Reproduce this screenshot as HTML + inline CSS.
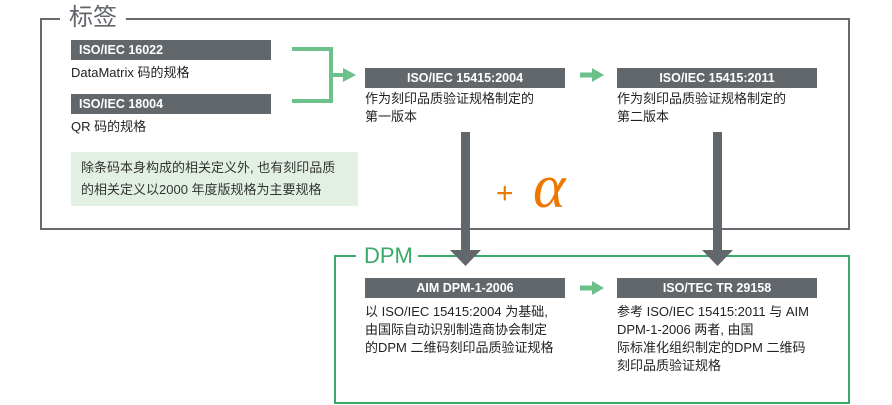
<!DOCTYPE html>
<html><head><meta charset="utf-8"><style>
body{margin:0;width:892px;height:405px;background:#fff;position:relative;overflow:hidden;font-family:"Liberation Sans","Noto Sans CJK SC",sans-serif;color:#222}
.a{position:absolute}
.bar{position:absolute;height:20px;background:#62676c;color:#fff;font-size:12.5px;font-weight:bold;line-height:20px;width:200px}
.t{position:absolute;font-size:13px;line-height:18px;white-space:nowrap}
</style></head><body>
<svg class="a" style="left:0;top:0" width="892" height="405">
<rect x="41" y="19" width="808" height="210" fill="none" stroke="#666a6e" stroke-width="2"/>
<rect x="60" y="5" width="66" height="28" fill="#fff"/>
<rect x="71" y="152" width="287" height="54" fill="#e2f0e3"/>
<path d="M292 49H331V101H292M331 75H345" fill="none" stroke="#6cc089" stroke-width="4"/>
<polygon points="343,68 356,75 343,82" fill="#6cc089"/>
<path d="M580 75H594" stroke="#6cc089" stroke-width="5"/><polygon points="592,68 604,75 592,82" fill="#6cc089"/>
<path d="M580 288H594" stroke="#6cc089" stroke-width="5"/><polygon points="592,281 604,288 592,295" fill="#6cc089"/>
<rect x="335" y="256" width="514" height="147" fill="none" stroke="#3aaa6a" stroke-width="2"/>
<rect x="356" y="244" width="62" height="26" fill="#fff"/>
<rect x="461" y="132" width="9" height="119" fill="#62676c"/>
<polygon points="450,250 481,250 465.5,266" fill="#62676c"/>
<rect x="713" y="132" width="9" height="119" fill="#62676c"/>
<polygon points="702,250 733,250 717.5,266" fill="#62676c"/>
</svg>
<div class="a" style="left:69px;top:3px;font-size:24px;color:#62676c;line-height:30px">标签</div>
<div class="a" style="left:364px;top:242px;font-size:22px;color:#3aaa6a;line-height:28px">DPM</div>
<div class="bar" style="left:71px;top:40px;padding-left:8px;width:192px">ISO/IEC 16022</div>
<div class="t" style="left:71px;top:64px">DataMatrix 码的规格</div>
<div class="bar" style="left:71px;top:94px;padding-left:8px;width:192px">ISO/IEC 18004</div>
<div class="t" style="left:71px;top:118px">QR 码的规格</div>
<div class="t" style="left:81px;top:157px;line-height:22px;color:#333">除条码本身构成的相关定义外, 也有刻印品质<br>的相关定义以2000 年度版规格为主要规格</div>
<div class="bar" style="left:365px;top:68px;text-align:center">ISO/IEC 15415:2004</div>
<div class="t" style="left:365px;top:90px">作为刻印品质验证规格制定的<br>第一版本</div>
<div class="bar" style="left:617px;top:68px;text-align:center">ISO/IEC 15415:2011</div>
<div class="t" style="left:617px;top:90px">作为刻印品质验证规格制定的<br>第二版本</div>
<div class="a" style="left:496px;top:176px;font-size:30px;color:#ee7700;line-height:36px">+</div>
<div class="a" style="left:533px;top:152px;font-size:62px;color:#ee7700;font-style:italic;font-family:'Liberation Serif',serif;line-height:70px">α</div>
<div class="bar" style="left:365px;top:278px;text-align:center">AIM DPM-1-2006</div>
<div class="t" style="left:365px;top:303px">以 ISO/IEC 15415:2004 为基础,<br>由国际自动识别制造商协会制定<br>的DPM 二维码刻印品质验证规格</div>
<div class="bar" style="left:617px;top:278px;text-align:center">ISO/TEC TR 29158</div>
<div class="t" style="left:617px;top:303px">参考 ISO/IEC 15415:2011 与 AIM<br>DPM-1-2006 两者, 由国<br>际标准化组织制定的DPM 二维码<br>刻印品质验证规格</div>
</body></html>
